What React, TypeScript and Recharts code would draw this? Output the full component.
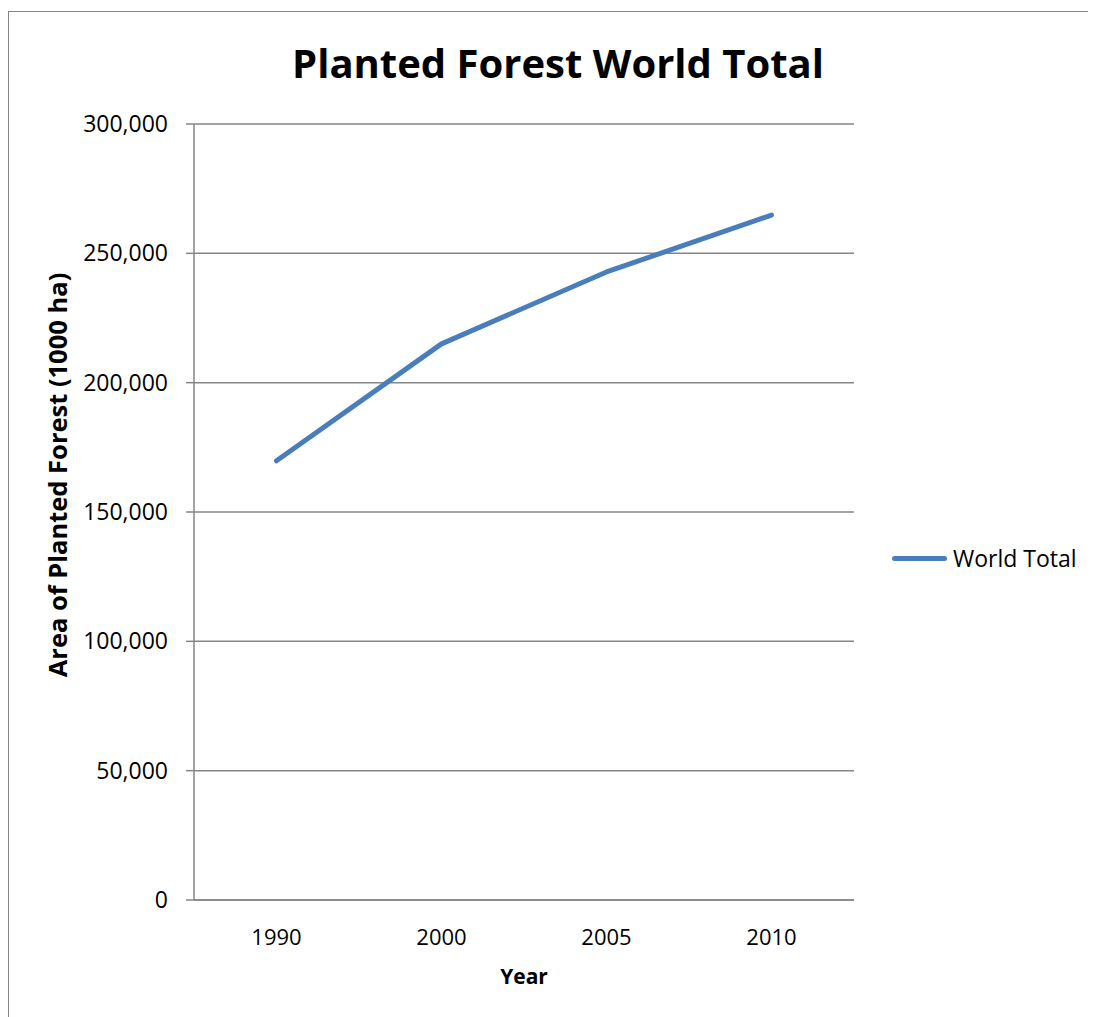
import { CartesianGrid, Label, Legend, Line, LineChart, XAxis, YAxis } from "recharts";

const years = ["1990", "2000", "2005", "2010"];
const worldTotal = [169800, 215000, 242800, 264800];
const yTicks = [0, 50000, 100000, 150000, 200000, 250000, 300000];

const data = years.map((year, i) => ({ year, total: worldTotal[i] }));

const FONT = "'Open Sans', sans-serif";
const BLUE = "#4A7EBB";
const GREY = "#868686";

const fmt = (v: number) => v.toLocaleString("en-US");

function YTitle({ viewBox }: any) {
  const cx = viewBox.x + 48;
  const cy = viewBox.y + viewBox.height / 2 - 37;
  return (
    <text x={cx} y={cy} transform={`rotate(-90 ${cx} ${cy})`} textAnchor="middle" dominantBaseline="central"
      fontFamily={FONT} fontSize={25.5} fontWeight={700} fill="#000">
      Area of Planted Forest (1000 ha)
    </text>
  );
}

function XTitle({ viewBox }: any) {
  return (
    <text x={viewBox.x + viewBox.width / 2} y={viewBox.y + 76} textAnchor="middle" dominantBaseline="central"
      fontFamily={FONT} fontSize={21} fontWeight={700} fill="#000">
      Year
    </text>
  );
}

function LegendBox() {
  return (
    <div style={{ display: "flex", alignItems: "center", height: 24, fontFamily: FONT, fontSize: 23, color: "#000", whiteSpace: "nowrap" }}>
      <div style={{ width: 55, height: 5, borderRadius: 3, background: BLUE, marginRight: 6 }} />
      <span>World Total</span>
    </div>
  );
}

export default function App() {
  return (
    <div style={{ position: "relative", marginTop: 3, width: 1100, height: 1005, borderLeft: `1px solid ${GREY}`, borderTop: `1px solid ${GREY}`, background: "#fff" }}>
      <style>{`body { overflow: hidden; }`}</style>
      <svg width={1100} height={100} style={{ position: "absolute", left: 0, top: 0 }}>
        <text x={549} y={66} textAnchor="middle" fontFamily={FONT} fontSize={40} fontWeight={700} fill="#000">
          Planted Forest World Total
        </text>
      </svg>
      <LineChart width={1100} height={1005} data={data} margin={{ top: 112, right: 255, left: 0, bottom: 77 }}>
        <CartesianGrid vertical={false} stroke={GREY} strokeWidth={1.5} />
        <XAxis dataKey="year" height={40} padding={{ left: 82.5, right: 82.5 }} tickLine={false}
          axisLine={{ stroke: GREY, strokeWidth: 1.5 }} tick={{ fontFamily: FONT, fontSize: 22, fill: "#000" }} tickMargin={23}>
          <Label content={<XTitle />} />
        </XAxis>
        <YAxis width={185} domain={[0, 300000]} ticks={yTicks} tickFormatter={fmt} interval={0}
          axisLine={{ stroke: GREY, strokeWidth: 1.5 }} tickLine={{ stroke: GREY, strokeWidth: 1.5 }} tickSize={8} tickMargin={18}
          tick={{ fontFamily: FONT, fontSize: 23, fill: "#000" }}>
          <Label content={<YTitle />} />
        </YAxis>
        <Legend align="center" verticalAlign="middle" layout="horizontal" content={<LegendBox />}
          wrapperStyle={{ left: 883, top: 534, width: 220, height: 24 }} />
        <Line type="linear" dataKey="total" name="World Total" stroke={BLUE} strokeWidth={5} strokeLinecap="round"
          strokeLinejoin="round" dot={false} isAnimationActive={false} />
      </LineChart>
    </div>
  );
}
